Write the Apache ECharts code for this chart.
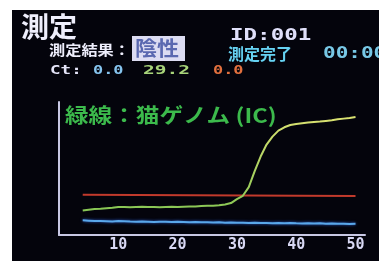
<!DOCTYPE html>
<html>
<head>
<meta charset="utf-8">
<script src="https://cdn.jsdelivr.net/npm/echarts@6/dist/echarts.min.js"></script>
<style>
  html,body{margin:0;padding:0;background:#fff;}
  #chart{width:379px;height:261px;}
</style>
</head>
<body>
<div id="chart"></div>
<script>
// cycles and readings
var cycles = [4,5,6,7,8,9,10,11,12,13,14,15,16,17,18,19,20,21,22,23,24,25,26,27,
              28,29,30,31,32,33,34,35,36,37,38,39,40,41,42,43,44,45,46,47,48,49,50];
var greenVals = [18.5,19,19.5,19.8,20.2,20.5,21,21,20.8,21,21.2,21,21,20.8,21,21.2,21,21.3,21.5,21.5,21.8,22,22,22.3,
                 23,24,27,29.5,36,48,59,68,74,78.5,81,82.7,83.5,84,84.5,85,85.3,85.8,86.3,87,87.5,88,88.7];
var blueVals = [11,10.8,10.5,10.6,10.4,10.2,10.5,10.3,10.1,10,10.2,10,9.8,10,9.9,9.7,10,9.8,9.6,9.8,9.5,9.6,9.4,9.5,
                9.3,9.4,9.2,9.3,9,9.2,9,9.1,8.9,9,8.8,9,8.8,8.7,8.9,8.6,8.8,8.5,8.6,8.4,8.5,8.3,8.4];
var redCycles = [4,50];
var redVals = [30.3,29.4];
var xTicks = [10,20,30,40,50];

function pairs(xs, ys){
  var out = [];
  for (var i = 0; i < xs.length; i++) out.push([xs[i], ys[i]]);
  return out;
}

var mono = 'DejaVu Sans Mono';
var jp = '"Noto Sans CJK JP"';

// screen-style text, stretched like the device font
function label(txt, x, y, color, font, sx, sy){
  return {type:'text',x:x,y:y,scaleX:sx||1,scaleY:sy||1,
    style:{text:txt,fill:color,font:font,verticalAlign:'top'}};
}

var chart = echarts.init(document.getElementById('chart'));
chart.setOption({
  backgroundColor:'#fff',
  animation:false,
  grid:{left:59,right:14,top:102,bottom:26},
  xAxis:{
    type:'value',min:0,max:51.6,interval:10,
    axisLine:{lineStyle:{color:'#c8c8e4',width:2}},
    axisTick:{show:false},
    splitLine:{show:false},
    axisLabel:{
      color:'#d8d8f4',fontFamily:mono,fontWeight:'bold',fontSize:15,margin:3,
      showMinLabel:false,
      formatter:function(v){ return xTicks.indexOf(v) >= 0 ? String(v) : ''; }
    }
  },
  yAxis:{
    type:'value',min:0,max:100,
    axisLine:{show:true,lineStyle:{color:'#c8c8e4',width:2}},
    axisTick:{show:false},
    axisLabel:{show:false},
    splitLine:{show:false}
  },
  graphic:[
    {type:'rect',z:-10,shape:{x:12,y:10,width:367,height:251},style:{fill:'#04040c'}},
    label('測定',21,13,'#eeeefc','bold 27px '+jp,1.04,1),
    label('測定結果：',49,43,'#eeeefc','bold 15px '+jp,1.08,0.9),
    {type:'rect',shape:{x:132,y:36,width:53,height:25},style:{fill:'#dcdcf2'}},
    label('陰性',135,38,'#5a68b0','bold 20px '+jp,1.1,1),
    label('Ct:',50,64,'#e4e4f8','bold 13px '+mono,1.35,1),
    label('0.0',93,64,'#86c4ee','bold 13px '+mono,1.3,1),
    label('29.2',143,64,'#a8d47a','bold 13px '+mono,1.5,1),
    label('0.0',213,64,'#e2703e','bold 13px '+mono,1.3,1),
    label('ID:001',230,29,'#e0e0fa','bold 15px '+mono,1.5,1),
    label('測定完了',228,46,'#66d2f2','bold 16px '+jp,1,1),
    label('00:00',323,47,'#78c8e6','bold 15px '+mono,1.4,1),
    label('緑線：猫ゲノム (IC)',65,105,'#3cba4c','bold 20px '+jp,1.18,1)
  ],
  series:[
    {type:'line',data:pairs(redCycles,redVals),symbol:'none',
     lineStyle:{color:'#c23a2c',width:2}},
    {type:'line',data:pairs(cycles,blueVals),symbol:'none',
     lineStyle:{color:'#5aa8ea',width:2,shadowColor:'#2a5ac8',shadowBlur:3}},
    {type:'line',data:pairs(cycles,greenVals),symbol:'none',
     lineStyle:{width:2,color:new echarts.graphic.LinearGradient(0,0,0,1,[
       {offset:0,color:'#dce272'},{offset:1,color:'#86c654'}])}}
  ]
});
</script>
</body>
</html>
